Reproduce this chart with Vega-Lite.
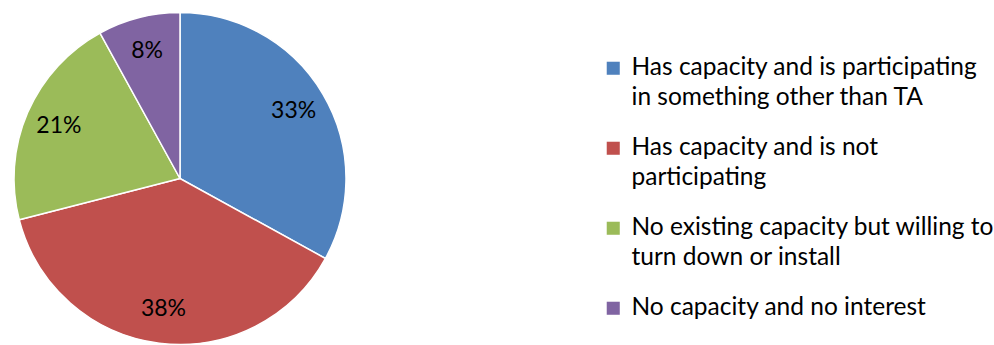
{
  "$schema": "https://vega.github.io/schema/vega-lite/v6.json",
  "width": 360,
  "height": 345,
  "padding": {"left": 0, "top": 6, "right": 634, "bottom": 0},
  "autosize": {"type": "none"},
  "background": "white",
  "config": {"view": {"stroke": null}, "font": "Lato"},
  "data": {
    "values": [
      {"category": "Has capacity and is participating in something other than TA", "value": 33, "order": 1, "label": "33%"},
      {"category": "Has capacity and is not participating", "value": 38, "order": 2, "label": "38%"},
      {"category": "No existing capacity but willing to turn down or install", "value": 21, "order": 3, "label": "21%"},
      {"category": "No capacity and no interest", "value": 8, "order": 4, "label": "8%"}
    ]
  },
  "encoding": {
    "theta": {"field": "value", "type": "quantitative", "stack": true},
    "order": {"field": "order", "type": "quantitative"}
  },
  "layer": [
    {
      "mark": {"type": "arc", "outerRadius": 166, "stroke": "white", "strokeWidth": 1.5},
      "encoding": {
        "color": {
          "field": "category",
          "type": "nominal",
          "sort": {"field": "order"},
          "scale": {
            "domain": [
              "Has capacity and is participating in something other than TA",
              "Has capacity and is not participating",
              "No existing capacity but willing to turn down or install",
              "No capacity and no interest"
            ],
            "range": ["#4F81BD", "#C0504D", "#9BBB59", "#8064A2"]
          },
          "legend": {
            "title": null,
            "orient": "none",
            "legendX": 601,
            "legendY": 50,
            "padding": 0,
            "symbolType": "square",
            "symbolSize": 170,
            "symbolStrokeWidth": 0,
            "symbolOpacity": 1,
            "labelFont": "Lato",
            "labelFontSize": 24.5,
            "labelColor": "#000000",
            "labelLimit": 500,
            "labelOffset": 6,
            "rowPadding": 25,
            "labelExpr": "datum.label == 'Has capacity and is participating in something other than TA' ? ['Has capacity and is participating', 'in something other than TA'] : datum.label == 'Has capacity and is not participating' ? ['Has capacity and is not', 'participating'] : datum.label == 'No existing capacity but willing to turn down or install' ? ['No existing capacity but willing to', 'turn down or install'] : datum.label",
            "encoding": {
              "labels": {"lineHeight": {"value": 30}}
            }
          }
        }
      }
    },
    {
      "mark": {"type": "text", "radius": 132, "font": "Lato", "fontSize": 23, "color": "#000000"},
      "encoding": {
        "text": {"field": "label", "type": "nominal"}
      }
    }
  ]
}
